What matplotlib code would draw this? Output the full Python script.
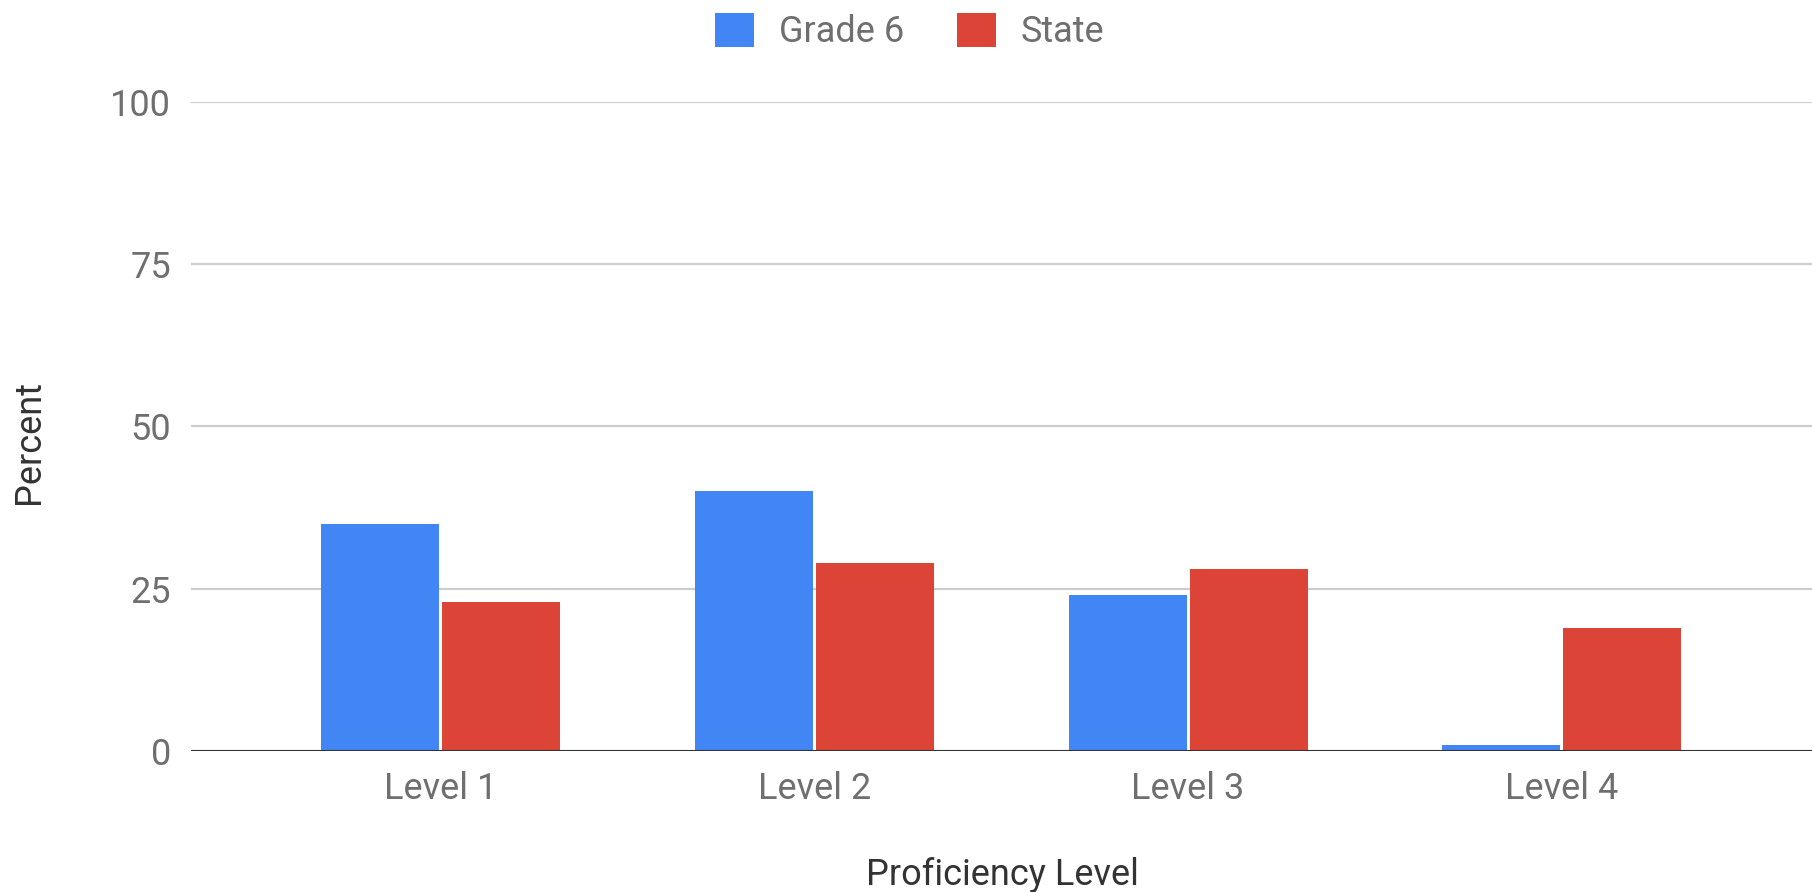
import matplotlib
matplotlib.use("Agg")
import matplotlib.pyplot as plt
import numpy as np
from matplotlib.patches import Patch

plt.rcParams['font.family'] = ['Roboto', 'DejaVu Sans']

categories = ["Level 1", "Level 2", "Level 3", "Level 4"]
grade6 = [35, 40, 24, 1]
state = [23, 29, 28, 19]
series_names = ["Grade 6", "State"]
yticks = [0, 25, 50, 75, 100]

BLUE = "#4285f4"
RED = "#db4437"
TICK = "#6f6f6f"
TITLE = "#333333"
FS = 26

fig = plt.figure(figsize=(18.12, 8.92), dpi=100)
ax = fig.add_axes([0.1052, 0.158, 0.8948, 0.728])

x = np.arange(len(categories))
w = 0.316
off = 0.162
ax.bar(x - off, grade6, width=w, color=BLUE, zorder=3)
ax.bar(x + off, state, width=w, color=RED, zorder=3)

ax.set_xlim(-0.67, 3.67)
ax.set_ylim(0, 100)
ax.set_yticks(yticks)
ax.set_yticklabels([str(v) for v in yticks])
ax.set_xticks(x)
ax.set_xticklabels(categories)

for s in ax.spines.values():
    s.set_visible(False)
ax.grid(axis='y', color="#cccccc", linewidth=1.6, zorder=0)
ax.axhline(0, color="#333333", linewidth=2.2, zorder=4)
ax.tick_params(axis='both', length=0, labelsize=FS, labelcolor=TICK)
ax.tick_params(axis='y', pad=14)
ax.tick_params(axis='x', pad=14)

fig.text(0.553, 0.0078, "Proficiency Level", ha='center', va='baseline',
         fontsize=FS, color=TITLE)
fig.text(0.016, 0.504, "Percent", ha='center', va='center', rotation=90,
         fontsize=FS, color=TITLE)

handles = [Patch(facecolor=BLUE, edgecolor='none'), Patch(facecolor=RED, edgecolor='none')]
fig.legend(handles, series_names, loc='center', bbox_to_anchor=(0.502, 0.965),
           ncol=2, frameon=False, fontsize=FS, labelcolor=TICK,
           handlelength=1.08, handleheight=1.08, handletextpad=0.7, columnspacing=1.45,
           borderpad=0)

fig.savefig("out.png", dpi=100)
